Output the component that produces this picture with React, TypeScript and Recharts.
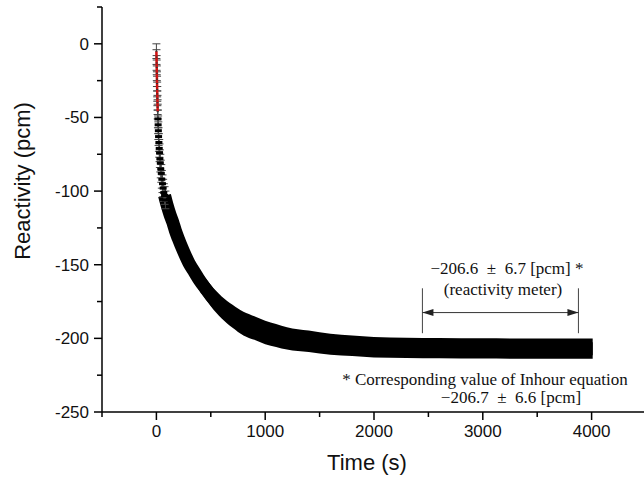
import React from "react";
import {
  ComposedChart,
  Line,
  Area,
  Scatter,
  ErrorBar,
  XAxis,
  YAxis,
  ReferenceLine,
} from "recharts";

// early measurements (sparse crosses + red trace)
const earlyTime = [0, 1, 2, 3, 4, 5, 6, 7, 8, 9, 10, 11, 12, 14, 16, 18, 20, 23, 26, 29, 32, 36, 40, 45, 50, 56, 62, 68, 75, 83];
const earlyReact = [-5, -9, -13, -16, -20, -24, -27, -31, -34, -37, -40, -43, -46, -51, -55, -59, -63, -67, -71, -74, -78, -81, -85, -88, -92, -95, -98, -101, -103, -106];
const earlyErr = [5, 5, 5, 5, 5, 5, 5, 5, 5, 5, 5, 5, 5, 6, 6, 6, 6, 6, 6, 6, 6, 6, 6, 6, 6, 6, 6, 6, 6, 6];
const redCount = 13;

// dense part of the record, drawn as a band
const bandTime = [75, 100, 125, 150, 175, 200, 250, 300, 350, 400, 450, 500, 600, 700, 800, 900, 1000, 1100, 1200, 1400, 1600, 1800, 2000, 2300, 2600, 3000, 3400, 3700, 4010];
const bandReact = [-103, -110, -116, -121, -127, -132, -141, -149, -155, -161, -166, -171, -179, -185, -190, -193, -196, -198, -200, -202, -204, -205, -206, -206.4, -206.6, -206.8, -207, -207, -207];
const bandErr = [7, 7, 7, 7, 7, 7, 7, 7, 7, 7, 7, 7.2, 7.5, 7.8, 8, 8, 8, 7.8, 7.6, 7.3, 7.1, 7, 7, 6.9, 6.9, 6.9, 6.9, 6.9, 6.9];

const xTicks = [-500, 0, 500, 1000, 1500, 2000, 2500, 3000, 3500, 4000, 4500];
const yTicks = [-250, -225, -200, -175, -150, -125, -100, -75, -50, -25, 0, 25];

// bracket for the reactivity meter average
const bracketStart = 2445;
const bracketEnd = 3879;
const bracketY = -182.5;
const bracketTop = -166;
const bracketBottom = -196.5;

const earlyRows = earlyTime.map((t, i) => ({ t, v: earlyReact[i], err: earlyErr[i] }));
const redRows = earlyRows.slice(0, redCount);
const bandRows = bandTime.map((t, i) => ({
  t,
  v: bandReact[i],
  band: [bandReact[i] - bandErr[i], bandReact[i] + bandErr[i]],
}));

const AXIS_FONT = "'Liberation Sans', Arial, sans-serif";
const NOTE_FONT = "'Liberation Serif', 'Times New Roman', serif";

const XTick = (props: any) => {
  const { x, y, payload } = props;
  const major = payload.value % 1000 === 0;
  return (
    <g>
      <line x1={x} x2={x} y1={y} y2={y + (major ? 8 : 5)} stroke="#000" strokeWidth={1.5} />
      {major && (
        <text x={x} y={y + 25} textAnchor="middle" fontSize={17} fontFamily={AXIS_FONT} fill="#111">
          {payload.value}
        </text>
      )}
    </g>
  );
};

const YTick = (props: any) => {
  const { x, y, payload } = props;
  const major = payload.value % 50 === 0;
  return (
    <g>
      <line x1={x - (major ? 8 : 5)} x2={x} y1={y} y2={y} stroke="#000" strokeWidth={1.5} />
      {major && (
        <text x={x - 13} y={y + 6} textAnchor="end" fontSize={17} fontFamily={AXIS_FONT} fill="#111">
          {payload.value}
        </text>
      )}
    </g>
  );
};

const ArrowLine = (props: any) => {
  const { x1, x2, y1 } = props;
  const y = y1;
  return (
    <g>
      <line x1={x1} x2={x2} y1={y} y2={y} stroke="#333" strokeWidth={1} />
      <path d={`M${x1},${y} L${x1 + 11},${y - 3.5} L${x1 + 11},${y + 3.5} Z`} fill="#222" />
      <path d={`M${x2},${y} L${x2 - 11},${y - 3.5} L${x2 - 11},${y + 3.5} Z`} fill="#222" />
    </g>
  );
};

const Marker = (p: any) =>
  p.payload.v < -48 ? (
    <rect x={p.cx - 3.5} y={p.cy - 1.5} width={7} height={3} fill="#000" />
  ) : (
    <rect x={p.cx - 1} y={p.cy - 0.5} width={2} height={1} fill="#333" />
  );

export default function App() {
  return (
    <div style={{ position: "absolute", left: 0, top: 0, width: 644, height: 478, background: "#fff" }}>
      <ComposedChart width={644} height={478} margin={{ top: 7, right: -2, bottom: 0, left: 0 }}>
        <XAxis
          dataKey="t"
          type="number"
          domain={[-500, 4500]}
          ticks={xTicks}
          interval={0}
          tickSize={0}
          tickMargin={0}
          tick={<XTick />}
          height={66}
          axisLine={{ stroke: "#000", strokeWidth: 1.5 }}
          allowDataOverflow
        />
        <YAxis
          type="number"
          domain={[-250, 25]}
          ticks={yTicks}
          interval={0}
          tickSize={0}
          tickMargin={0}
          tick={<YTick />}
          width={102}
          axisLine={{ stroke: "#000", strokeWidth: 1.5 }}
          allowDataOverflow
        />
        <Area
          data={bandRows}
          dataKey="band"
          type="monotone"
          stroke="none"
          fill="#000"
          fillOpacity={1}
          isAnimationActive={false}
        />
        <Line
          data={bandRows}
          dataKey="v"
          type="monotone"
          stroke="#000"
          strokeWidth={13}
          dot={false}
          isAnimationActive={false}
        />
        <Scatter data={earlyRows} dataKey="v" fill="#000" shape={Marker} isAnimationActive={false}>
          <ErrorBar dataKey="err" direction="y" width={4} stroke="#444" strokeWidth={1} />
        </Scatter>
        <Line
          data={redRows}
          dataKey="v"
          type="linear"
          stroke="#d01010"
          strokeWidth={2.5}
          dot={false}
          isAnimationActive={false}
        />
        <ReferenceLine
          segment={[{ x: bracketStart, y: bracketTop }, { x: bracketStart, y: bracketBottom }]}
          stroke="#444"
          strokeWidth={1}
        />
        <ReferenceLine
          segment={[{ x: bracketEnd, y: bracketTop }, { x: bracketEnd, y: bracketBottom }]}
          stroke="#444"
          strokeWidth={1}
        />
        <ReferenceLine
          segment={[{ x: bracketStart, y: bracketY }, { x: bracketEnd, y: bracketY }]}
          shape={ArrowLine}
        />
      </ComposedChart>
      <svg
        width={644}
        height={478}
        style={{ position: "absolute", left: 0, top: 0, pointerEvents: "none" }}
      >
        <text x={22} y={181} transform="rotate(-90 22 181)" textAnchor="middle" dominantBaseline="central" fontSize={22} fontFamily={AXIS_FONT} fill="#111">
          Reactivity (pcm)
        </text>
        <text x={367} y={470} textAnchor="middle" fontSize={22} fontFamily={AXIS_FONT} fill="#111">
          Time (s)
        </text>
        <text x={507} y={274} textAnchor="middle" fontSize={17} fontFamily={NOTE_FONT} fill="#111" style={{ whiteSpace: "pre" }}>
          {"−206.6  ±  6.7 [pcm] *"}
        </text>
        <text x={503} y={295} textAnchor="middle" fontSize={17} fontFamily={NOTE_FONT} fill="#111">
          (reactivity meter)
        </text>
        <text x={485} y={385} textAnchor="middle" fontSize={17} fontFamily={NOTE_FONT} fill="#111">
          * Corresponding value of Inhour equation
        </text>
        <text x={511} y={403} textAnchor="middle" fontSize={17} fontFamily={NOTE_FONT} fill="#111" style={{ whiteSpace: "pre" }}>
          {"−206.7  ±  6.6 [pcm]"}
        </text>
      </svg>
    </div>
  );
}
